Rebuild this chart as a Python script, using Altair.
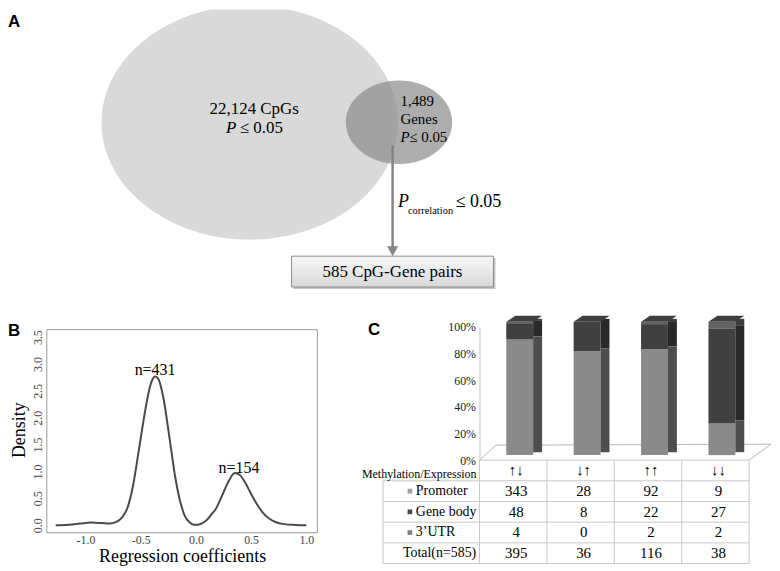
import altair as alt
import pandas as pd

SERIF = "Liberation Serif"
SANS = "Liberation Sans"

# ---------------- Panel A : Venn-style diagram ----------------
cpg_count_text = "22,124 CpGs"
gene_count_text = ["1,489", "Genes"]
p_text = "≤ 0.05"
pair_text = "585 CpG-Gene pairs"

# ---------------- Panel B : density of regression coefficients ----------------
coef = [-1.27, -1.15, -1.05, -0.95, -0.85, -0.78, -0.72, -0.67, -0.62, -0.57,
        -0.52, -0.47, -0.43, -0.40, -0.37, -0.34, -0.31, -0.28, -0.25, -0.22,
        -0.19, -0.16, -0.13, -0.10, -0.06, -0.02, 0.02, 0.06, 0.10, 0.14,
        0.18, 0.22, 0.26, 0.30, 0.35, 0.40, 0.45, 0.50, 0.55, 0.60,
        0.66, 0.72, 0.80, 0.90, 1.00]
density = [0.0, 0.01, 0.03, 0.05, 0.04, 0.03, 0.06, 0.14, 0.32, 0.73,
           1.35, 2.0, 2.45, 2.68, 2.77, 2.72, 2.52, 2.2, 1.78, 1.35,
           0.93, 0.6, 0.35, 0.17, 0.06, 0.01, 0.01, 0.04, 0.1, 0.2,
           0.3, 0.47, 0.66, 0.83, 0.97, 0.93, 0.78, 0.58, 0.4, 0.25,
           0.13, 0.06, 0.02, 0.005, 0.0]
peak_labels = ["n=431", "n=154"]
peak_x = [-0.37, 0.39]
peak_y = [2.89, 1.07]
b_xticks = [-1.0, -0.5, 0.0, 0.5, 1.0]
b_yticks = [0.0, 0.5, 1.0, 1.5, 2.0, 2.5, 3.0, 3.5]

# ---------------- Panel C : stacked bars + table ----------------
patterns = ["↑↓", "↓↑", "↑↑", "↓↓"]
regions = ["Promoter", "Gene body", "3’UTR"]
promoter = [343, 28, 92, 9]
gene_body = [48, 8, 22, 27]
utr3 = [4, 0, 2, 2]
totals = [395, 36, 116, 38]
row_labels = ["Methylation/Expression", "Promoter", "Gene body", "3’UTR", "Total(n=585)"]
c_yticks = [0, 0.2, 0.4, 0.6, 0.8, 1.0]

front_colors = {"Promoter": "#8a8a8a", "Gene body": "#404040", "3’UTR": "#626262"}
side_colors = {"Promoter": "#4e4e4e", "Gene body": "#292929", "3’UTR": "#3c3c3c"}
marker_colors = {"Promoter": "#a0a0a0", "Gene body": "#474747", "3’UTR": "#7f7f7f"}

one = pd.DataFrame({"k": [0]})

# ======================= Panel A =======================
AW, AH = 725, 319
ax = alt.Scale(domain=[0, AW], nice=False, zero=False)
ay = alt.Scale(domain=[0, AH], nice=False, zero=False, reverse=True)


def AX(f="x"):
    return alt.X(f"{f}:Q", scale=ax, axis=None)


def AY(f="y"):
    return alt.Y(f"{f}:Q", scale=ay, axis=None)


def ellipse(rx, ry):
    return (f"M{-rx},0A{rx},{ry} 0 0 1 0,{-ry}A{rx},{ry} 0 0 1 {rx},0"
            f"A{rx},{ry} 0 0 1 0,{ry}A{rx},{ry} 0 0 1 {-rx},0Z")


def a_text(xs, ys, texts, size, align="center", style="normal", font=SERIF, weight="normal"):
    df = pd.DataFrame({"x": xs, "y": ys, "t": texts})
    return alt.Chart(df).mark_text(font=font, fontSize=size, align=align, baseline="middle",
                                   fontStyle=style, fontWeight=weight, color="black").encode(
        x=AX(), y=AY(), text="t:N")


big = alt.Chart(pd.DataFrame({"x": [204], "y": [113.7]})).mark_point(
    shape=ellipse(149, 117.7), size=4, filled=True, color="#d9d9d9", opacity=1,
    strokeWidth=0, clip=True).encode(x=AX(), y=AY())
small = alt.Chart(pd.DataFrame({"x": [354], "y": [113.3]})).mark_point(
    shape=ellipse(53.5, 42), size=4, filled=True, color="#8a8a8a", opacity=0.7,
    strokeWidth=0).encode(x=AX(), y=AY())

arrow_line = alt.Chart(pd.DataFrame({"x": [347.6], "y": [137], "y2": [240]})).mark_rule(
    color="#858585", strokeWidth=2.5).encode(x=AX(), y=AY(), y2="y2:Q")
arrow_head = alt.Chart(pd.DataFrame({"x": [347.6], "y": [248]})).mark_point(
    shape="M-5.5,-10L5.5,-10L0,0Z", size=4, filled=True, color="#858585", opacity=1,
    strokeWidth=0).encode(x=AX(), y=AY())

box_shadow = alt.Chart(pd.DataFrame({"x": [248], "x2": [451], "y": [250], "y2": [281]})).mark_rect(
    color="#c4c4c4").encode(x=AX(), x2="x2:Q", y=AY(), y2="y2:Q")
box = alt.Chart(pd.DataFrame({"x": [246], "x2": [449], "y": [248], "y2": [279]})).mark_rect(
    fill=alt.Gradient(gradient="linear", x1=0, x2=0, y1=0, y2=1,
                      stops=[alt.GradientStop(color="#f8f8f8", offset=0),
                             alt.GradientStop(color="#d8d8d8", offset=1)]),
    stroke="#8c8c8c", strokeWidth=1).encode(x=AX(), x2="x2:Q", y=AY(), y2="y2:Q")

a_label = alt.Chart(pd.DataFrame({"t": ["A"]})).mark_text(
    font=SANS, fontSize=17, fontWeight="bold", align="left", baseline="middle", color="black").encode(
    x=alt.value(-39), y=alt.value(13), text="t:N")

panelA = alt.layer(
    big, small, arrow_line, arrow_head, box_shadow, box,
    a_text([208.5], [99.7], [cpg_count_text], 17),
    a_text([190.5], [118.7], ["P"], 17, align="right", style="italic"),
    a_text([194], [118.7], [p_text], 17, align="left"),
    a_text([355.5, 355.5], [92, 110.3], gene_count_text, 15, align="left"),
    a_text([355.5], [128], ["P"], 15, align="left", style="italic"),
    a_text([364.4], [128], [p_text], 15, align="left"),
    a_text([353], [194], ["P"], 18, align="left", style="italic"),
    a_text([363], [203], ["correlation"], 10.5, align="left"),
    a_text([411], [194], [p_text], 18, align="left"),
    a_text([347.5], [263.5], [pair_text], 17),
    a_label,
).properties(width=AW, height=AH)

# ======================= Panel B =======================
BW, BH = 272, 207
bx = alt.Scale(domain=[-1.35, 1.10], nice=False, zero=False)
by = alt.Scale(domain=[-0.14, 3.693], nice=False, zero=False)
minus_fix = "replace(format(datum.value, '.1f'), '\u2212', '-')"

b_xaxis = alt.Axis(values=b_xticks, labelExpr=minus_fix, domain=False, ticks=False,
                   tickSize=0, grid=False, labelPadding=2, labelFont=SERIF,
                   labelFontSize=12, labelColor="#444", titleFont=SERIF,
                   titleFontSize=18, titleFontWeight="normal", titleColor="black",
                   titlePadding=2)
b_yaxis = alt.Axis(values=b_yticks, labelExpr=minus_fix, domain=False, ticks=False,
                   tickSize=0, grid=False, labelPadding=2, labelAngle=-90,
                   labelAlign="center", labelBaseline="bottom", labelFont=SERIF,
                   labelFontSize=12, labelColor="#444", titleFont=SERIF,
                   titleFontSize=18, titleFontWeight="normal", titleColor="black",
                   titlePadding=3)
XT = "Regression coefficients"
YT = "Density"

dens_df = pd.DataFrame({"coef": coef, "density": density})
frame = alt.Chart(pd.DataFrame({"x": [-1.35], "x2": [1.10], "y": [-0.14], "y2": [3.64]})).mark_rect(
    fillOpacity=0, stroke="#9a9a9a", strokeWidth=1).encode(
    x=alt.X("x:Q", scale=bx, axis=b_xaxis, title=XT), x2="x2:Q",
    y=alt.Y("y:Q", scale=by, axis=b_yaxis, title=YT), y2="y2:Q")
curve = alt.Chart(dens_df).mark_line(color="#4a4a4a", strokeWidth=2, interpolate="monotone").encode(
    x=alt.X("coef:Q", scale=bx, axis=b_xaxis, title=XT),
    y=alt.Y("density:Q", scale=by, axis=b_yaxis, title=YT),
)
peaks = alt.Chart(pd.DataFrame({"x": peak_x, "y": peak_y, "t": peak_labels})).mark_text(
    font=SERIF, fontSize=16, color="black", baseline="middle").encode(
    x=alt.X("x:Q", scale=bx, axis=b_xaxis, title=XT),
    y=alt.Y("y:Q", scale=by, axis=b_yaxis, title=YT), text="t:N")
b_label = alt.Chart(pd.DataFrame({"t": ["B"]})).mark_text(
    font=SANS, fontSize=17, fontWeight="bold", align="left", baseline="middle", color="black").encode(
    x=alt.value(-39), y=alt.value(4.5), text="t:N")

panelB = alt.layer(frame, curve, peaks, b_label).properties(width=BW, height=BH)

# ======================= Panel C : bars =======================
CW, CH = 271, 134
cx = alt.Scale(domain=patterns, paddingInner=0, paddingOuter=0)
cy = alt.Scale(domain=[0, 1], nice=False, zero=True)
c_yaxis = alt.Axis(values=c_yticks, format=".0%", ticks=False, tickSize=0, grid=False,
                   domain=True, domainColor="#c4c4c4", labelPadding=4, labelFont=SERIF,
                   labelFontSize=12, labelColor="#222")

rows = []
for i, p in enumerate(patterns):
    for j, (r, v) in enumerate(zip(regions, [promoter[i], gene_body[i], utr3[i]])):
        rows.append({"pattern": p, "region": r, "count": v, "ord": j,
                     "fcol": front_colors[r], "scol": side_colors[r]})
bar_df = pd.DataFrame(rows)

floor_color = "#b5b5b5"
floor = alt.layer(
    alt.Chart(one).mark_rule(color=floor_color, strokeWidth=1).encode(
        x=alt.value(0), y=alt.value(134), x2=alt.value(16.5), y2=alt.value(119)),
    alt.Chart(one).mark_rule(color=floor_color, strokeWidth=1).encode(
        x=alt.value(16.5), y=alt.value(119), x2=alt.value(293), y2=alt.value(118)),
    alt.Chart(one).mark_rule(color=floor_color, strokeWidth=1).encode(
        x=alt.value(293), y=alt.value(118), x2=alt.value(271), y2=alt.value(134)),
)

front = alt.Chart(bar_df).mark_bar(size=27, xOffset=6.5, yOffset=-5, y2Offset=-5).encode(
    x=alt.X("pattern:N", scale=cx, sort=patterns, axis=None),
    y=alt.Y("count:Q", stack="normalize", scale=cy, title=None, axis=c_yaxis),
    color=alt.Color("fcol:N", scale=None, legend=None),
    order=alt.Order("ord:Q"),
)
side = alt.Chart(bar_df).mark_bar(size=9, xOffset=24.5, yOffset=-8, y2Offset=-8).encode(
    x=alt.X("pattern:N", scale=cx, sort=patterns, axis=None),
    y=alt.Y("count:Q", stack="normalize", scale=cy, title=None, axis=c_yaxis),
    color=alt.Color("scol:N", scale=None, legend=None),
    order=alt.Order("ord:Q"),
)
tops = alt.Chart(pd.DataFrame({"pattern": patterns, "top": [1.0] * 4})).mark_point(
    shape="M-7,-5L20,-5L29,-11L2,-11Z", size=4, filled=True, color="#3e3e3e", opacity=1,
    strokeWidth=0).encode(
    x=alt.X("pattern:N", scale=cx, sort=patterns, axis=None),
    y=alt.Y("top:Q", scale=cy, title=None, axis=c_yaxis))
c_label = alt.Chart(pd.DataFrame({"t": ["C"]})).mark_text(
    font=SANS, fontSize=17, fontWeight="bold", align="left", baseline="middle", color="black").encode(
    x=alt.value(-112), y=alt.value(3), text="t:N")

panelC_bars = alt.layer(floor, front, side, tops, c_label).properties(width=CW, height=CH)

# ======================= Panel C : table =======================
TH = 104
ty = alt.Scale(domain=row_labels, paddingInner=0, paddingOuter=0)
grid_color = "#c8c8c8"

cells = []
for i, p in enumerate(patterns):
    vals = [p, promoter[i], gene_body[i], utr3[i], totals[i]]
    for r, v in zip(row_labels, vals):
        cells.append({"pattern": p, "row": r, "val": str(v)})
cell_df = pd.DataFrame(cells)

TX = lambda **kw: alt.X("pattern:N", scale=cx, sort=patterns, axis=None, **kw)
TY = lambda **kw: alt.Y("row:N", scale=ty, sort=row_labels, axis=None, **kw)

h_lines = alt.Chart(pd.DataFrame({"row": row_labels})).mark_rule(color=grid_color, strokeWidth=1).encode(
    y=TY(bandPosition=1), x=alt.value(-97), x2=alt.value(CW))
top_line = alt.Chart(one).mark_rule(color=grid_color, strokeWidth=1).encode(
    y=alt.value(0), x=alt.value(0), x2=alt.value(CW))
v_lines = alt.Chart(pd.DataFrame({"pattern": patterns})).mark_rule(color=grid_color, strokeWidth=1).encode(
    x=TX(bandPosition=0), y=alt.value(0), y2=alt.value(TH))
right_line = alt.Chart(one).mark_rule(color=grid_color, strokeWidth=1).encode(
    x=alt.value(CW), y=alt.value(0), y2=alt.value(TH))
left_line = alt.Chart(one).mark_rule(color=grid_color, strokeWidth=1).encode(
    x=alt.value(-97), y=alt.value(TH / 5), y2=alt.value(TH))

cell_text = alt.Chart(cell_df).mark_text(font=SERIF, fontSize=15, dx=3, baseline="middle",
                                         color="black").encode(x=TX(), y=TY(), text="val:N")
header_label = alt.Chart(pd.DataFrame({"row": [row_labels[0]]})).mark_text(
    font=SERIF, fontSize=12, align="right", baseline="middle", dy=4, color="black").encode(
    x=alt.value(-3), y=TY(), text="row:N")
region_label = alt.Chart(pd.DataFrame({"row": regions})).mark_text(
    font=SERIF, fontSize=14, align="left", baseline="middle", color="black").encode(
    x=alt.value(-64), y=TY(), text="row:N")
total_label = alt.Chart(pd.DataFrame({"row": [row_labels[4]]})).mark_text(
    font=SERIF, fontSize=14, align="left", baseline="middle", color="black").encode(
    x=alt.value(-77), y=TY(), text="row:N")
markers = alt.Chart(pd.DataFrame({"row": regions,
                                  "mcol": [marker_colors[r] for r in regions]})).mark_square(
    size=22, opacity=1).encode(
    x=alt.value(-70), y=TY(), color=alt.Color("mcol:N", scale=None, legend=None))

panelC_table = alt.layer(h_lines, top_line, v_lines, right_line, left_line,
                         cell_text, header_label, region_label, total_label, markers
                         ).properties(width=CW, height=TH)

panelC = alt.vconcat(panelC_bars, panelC_table, spacing=0, bounds="flush")
bottom = alt.hconcat(panelB, panelC, spacing=163, bounds="flush")

chart = alt.vconcat(panelA, bottom, spacing=0, bounds="flush").properties(
    padding=0, background="white"
).configure_view(strokeWidth=0)

chart.save("out.html", embed_options={"renderer": "svg", "actions": False})
